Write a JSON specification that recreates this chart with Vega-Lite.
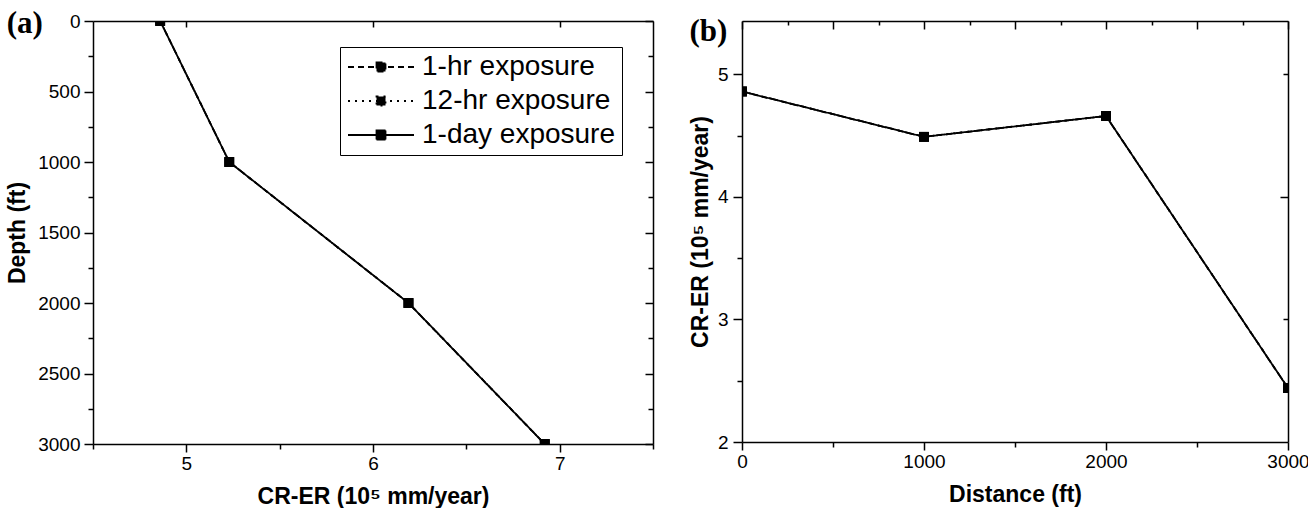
{
  "$schema": "https://vega.github.io/schema/vega-lite/v6.json",
  "padding": {"left": 6, "top": 8, "right": 0, "bottom": 0},
  "config": {
    "font": "Liberation Sans",
    "view": {"stroke": null},
    "axis": {"domainColor": "black", "domainWidth": 1.5, "tickColor": "black", "tickWidth": 1.5, "labelColor": "black", "labelFont": "Liberation Sans", "labelFontSize": 19, "titleFont": "Liberation Sans", "titleFontSize": 23, "titleFontWeight": "bold", "titleColor": "black", "grid": false, "labelFlush": false, "labelOverlap": false},
    "title": {"font": "Liberation Serif", "fontSize": 31, "fontWeight": "bold", "color": "black", "anchor": "start", "frame": "bounds"}
  },
  "datasets": {
    "a": [
      {"series": "1-hr exposure", "depth": 0, "cr": 4.86},
      {"series": "1-hr exposure", "depth": 1000, "cr": 5.23},
      {"series": "1-hr exposure", "depth": 2000, "cr": 6.19},
      {"series": "1-hr exposure", "depth": 3000, "cr": 6.92},
      {"series": "12-hr exposure", "depth": 0, "cr": 4.86},
      {"series": "12-hr exposure", "depth": 1000, "cr": 5.23},
      {"series": "12-hr exposure", "depth": 2000, "cr": 6.19},
      {"series": "12-hr exposure", "depth": 3000, "cr": 6.92},
      {"series": "1-day exposure", "depth": 0, "cr": 4.86},
      {"series": "1-day exposure", "depth": 1000, "cr": 5.23},
      {"series": "1-day exposure", "depth": 2000, "cr": 6.19},
      {"series": "1-day exposure", "depth": 3000, "cr": 6.92}
    ],
    "b": [
      {"series": "1-hr exposure", "distance": 0, "cr": 4.86},
      {"series": "1-hr exposure", "distance": 1000, "cr": 4.49},
      {"series": "1-hr exposure", "distance": 2000, "cr": 4.66},
      {"series": "1-hr exposure", "distance": 3000, "cr": 2.44},
      {"series": "12-hr exposure", "distance": 0, "cr": 4.86},
      {"series": "12-hr exposure", "distance": 1000, "cr": 4.49},
      {"series": "12-hr exposure", "distance": 2000, "cr": 4.66},
      {"series": "12-hr exposure", "distance": 3000, "cr": 2.44},
      {"series": "1-day exposure", "distance": 0, "cr": 4.86},
      {"series": "1-day exposure", "distance": 1000, "cr": 4.49},
      {"series": "1-day exposure", "distance": 2000, "cr": 4.66},
      {"series": "1-day exposure", "distance": 3000, "cr": 2.44}
    ]
  },
  "columns": 2,
  "align": "none",
  "spacing": 35,
  "concat": [
    {
      "title": {"text": "(a)", "offset": -28},
      "width": 560,
      "height": 423,
      "data": {"name": "a"},
      "layer": [
        {
          "mark": {"type": "line", "color": "black", "strokeWidth": 1.8, "clip": true},
          "encoding": {
            "x": {"field": "cr", "type": "quantitative", "scale": {"domain": [4.5, 7.5], "nice": false, "zero": false},
              "axis": {"orient": "bottom", "values": [4.5, 5, 5.5, 6, 6.5, 7, 7.5], "labelExpr": "datum.value % 1 === 0 ? format(datum.value, 'd') : ''", "tickSize": {"condition": {"test": "datum.value % 1 === 0", "value": 8}, "value": 5}, "labelPadding": 2, "title": "CR-ER (10⁵ mm/year)", "titlePadding": 12}},
            "y": {"field": "depth", "type": "quantitative", "scale": {"domain": [0, 3000], "reverse": true, "nice": false, "zero": false},
              "axis": {"orient": "left", "values": [0, 250, 500, 750, 1000, 1250, 1500, 1750, 2000, 2250, 2500, 2750, 3000], "labelExpr": "datum.value % 500 === 0 ? format(datum.value, 'd') : ''", "tickSize": {"condition": {"test": "datum.value % 500 === 0", "value": 9}, "value": 5}, "labelPadding": 4, "title": "Depth (ft)", "titlePadding": 8}},
            "strokeDash": {"field": "series", "type": "nominal",
              "scale": {"domain": ["1-hr exposure", "12-hr exposure", "1-day exposure"], "range": [[6, 4], [2, 5], [1, 0]]},
              "legend": {"title": null, "orient": "none", "legendX": 247, "legendY": 26, "strokeColor": "black", "padding": 6, "fillColor": "white", "labelFontSize": 28, "labelFont": "Liberation Sans", "labelColor": "black", "labelLimit": 400, "labelOffset": 48, "rowPadding": 6, "symbolType": "M-1,0H4.5M1.375,-0.375H2.125V0.375H1.375Z", "symbolSize": 576, "symbolStrokeColor": "black", "symbolFillColor": "black", "symbolStrokeWidth": 1.8}},
            "order": {"field": "depth", "type": "quantitative"}
          }
        },
        {
          "mark": {"type": "square", "color": "black", "filled": true, "size": 95, "opacity": 1, "clip": true},
          "encoding": {
            "x": {"field": "cr", "type": "quantitative", "scale": {"domain": [4.5, 7.5], "nice": false, "zero": false},
              "axis": {"orient": "top", "values": [5, 6, 7], "labels": false, "tickSize": -6, "title": null}},
            "y": {"field": "depth", "type": "quantitative", "scale": {"domain": [0, 3000], "reverse": true, "nice": false, "zero": false},
              "axis": {"orient": "right", "values": [0, 250, 500, 750, 1000, 1250, 1500, 1750, 2000, 2250, 2500, 2750, 3000], "labels": false, "tickSize": {"condition": {"test": "datum.value % 500 === 0", "value": -8}, "value": -5}, "title": null}}
          }
        }
      ],
      "resolve": {"axis": {"x": "independent", "y": "independent"}}
    },
    {
      "title": {"text": "(b)", "offset": -28},
      "width": 546,
      "height": 421,
      "data": {"name": "b"},
      "layer": [
        {
          "mark": {"type": "line", "color": "black", "strokeWidth": 1.8, "clip": true},
          "encoding": {
            "x": {"field": "distance", "type": "quantitative", "scale": {"domain": [0, 3000], "nice": false, "zero": false},
              "axis": {"orient": "bottom", "values": [0, 500, 1000, 1500, 2000, 2500, 3000], "labelExpr": "datum.value % 1000 === 0 ? format(datum.value, 'd') : ''", "tickSize": {"condition": {"test": "datum.value % 1000 === 0", "value": 8}, "value": 5}, "labelPadding": 2, "title": "Distance (ft)", "titlePadding": 12}},
            "y": {"field": "cr", "type": "quantitative", "scale": {"domain": [2, 5.435], "nice": false, "zero": false},
              "axis": {"orient": "left", "values": [2, 2.5, 3, 3.5, 4, 4.5, 5], "labelExpr": "datum.value % 1 === 0 ? format(datum.value, 'd') : ''", "tickSize": {"condition": {"test": "datum.value % 1 === 0", "value": 9}, "value": 5}, "labelPadding": 5, "title": "CR-ER (10⁵ mm/year)", "titlePadding": 5}},
            "strokeDash": {"field": "series", "type": "nominal",
              "scale": {"domain": ["1-hr exposure", "12-hr exposure", "1-day exposure"], "range": [[6, 4], [2, 5], [1, 0]]},
              "legend": {"title": null, "orient": "none", "legendX": 27, "legendY": 272, "strokeColor": "black", "padding": 6, "fillColor": "white", "labelFontSize": 28, "labelFont": "Liberation Sans", "labelColor": "black", "labelLimit": 400, "labelOffset": 48, "rowPadding": 6, "symbolType": "M-1,0H4.5M1.375,-0.375H2.125V0.375H1.375Z", "symbolSize": 576, "symbolStrokeColor": "black", "symbolFillColor": "black", "symbolStrokeWidth": 1.8}},
            "order": {"field": "distance", "type": "quantitative"}
          }
        },
        {
          "mark": {"type": "square", "color": "black", "filled": true, "size": 95, "opacity": 1, "clip": true},
          "encoding": {
            "x": {"field": "distance", "type": "quantitative", "scale": {"domain": [0, 3000], "nice": false, "zero": false},
              "axis": {"orient": "top", "values": [0, 250, 500, 750, 1000, 1250, 1500, 1750, 2000, 2250, 2500, 2750, 3000], "labels": false, "tickSize": {"condition": {"test": "datum.value % 500 === 0", "value": -8}, "value": -4}, "title": null}},
            "y": {"field": "cr", "type": "quantitative", "scale": {"domain": [2, 5.435], "nice": false, "zero": false},
              "axis": {"orient": "right", "values": [3, 4, 5], "labels": false, "tickSize": {"condition": {"test": "datum.value === 4", "value": -8}, "value": -5}, "title": null}}
          }
        }
      ],
      "resolve": {"axis": {"x": "independent", "y": "independent"}}
    }
  ]
}
